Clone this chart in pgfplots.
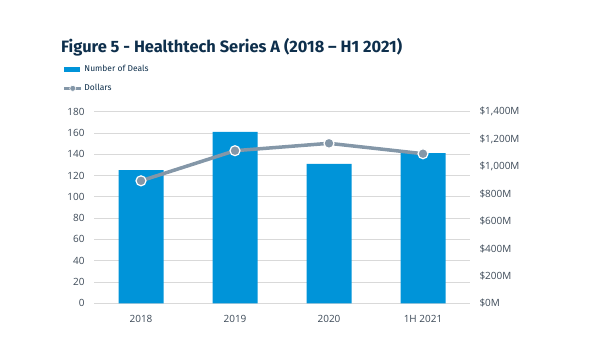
\documentclass[border=0pt]{standalone}
\usepackage{pgfplots}
\pgfplotsset{compat=1.18}
\usepackage{fontspec}
\setmainfont{Open Sans}
\newfontfamily\titlefont{Fira Sans}
\definecolor{barblue}{HTML}{0094D9}
\definecolor{linegray}{HTML}{8497A8}
\definecolor{titlec}{HTML}{0E2F4C}
\definecolor{tickc}{HTML}{3D4A58}
\definecolor{gridc}{HTML}{D9D9D9}
\begin{document}
\begin{tikzpicture}
\path[use as bounding box, fill=white] (0bp,0bp) rectangle (600bp,360bp);
\node[anchor=west, font=\titlefont\bfseries\fontsize{16.5}{20}\selectfont, text=titlec, inner sep=0] at (61bp,313bp) {Figure 5 - Healthtech Series A (2018 – H1 2021)};
\begin{axis}[
  at={(94bp,56.7bp)}, anchor=south west,
  width=376bp, height=191.6bp, scale only axis,
  xmin=-0.5, xmax=3.5, ymin=0, ymax=180,
  xtick={0,1,2,3}, xticklabels={2018,2019,2020,1H 2021},
  ytick={0,20,...,180},
  ymajorgrids, grid style={gridc, line width=0.8bp},
  axis line style={draw=none}, tick style={draw=none},
  ticklabel style={font=\fontsize{10}{12}\selectfont, text=tickc},
  /pgf/number format/assume math mode=true,
  xticklabel style={yshift=-8bp},
  yticklabel style={xshift=-6bp},
  legend style={at={(-0.083,1.252)}, anchor=north west, draw=none, fill=none,
    font=\titlefont\fontsize{8.5}{9}\selectfont, text=titlec, row sep=7bp, inner sep=0pt},
  legend cell align=left,
]
\addplot[ybar, bar width=45bp, fill=barblue, draw=none,
  legend image code/.code={\fill[barblue] (0bp,-2.5bp) rectangle (16bp,2.5bp);}]
  coordinates {(0,125) (1,161) (2,131) (3,141)};
\addlegendentry{Number of Deals}
\addlegendimage{legend image code/.code={
  \draw[linegray, line width=2.5bp] (0bp,0bp) -- (17bp,0bp);
  \fill[linegray, draw=white, line width=0.6bp] (8.5bp,0bp) circle (3bp);}}
\addlegendentry{Dollars}
\end{axis}
\begin{axis}[
  at={(94bp,56.7bp)}, anchor=south west,
  width=376bp, height=191.6bp, scale only axis,
  xmin=-0.5, xmax=3.5, ymin=0, ymax=1400,
  hide x axis, axis y line*=right,
  axis line style={draw=none}, tick style={draw=none},
  ytick={0,200,...,1400},
  yticklabels={\$0M,\$200M,\$400M,\$600M,\$800M,\$1{,}000M,\$1{,}200M,\$1{,}400M},
  ticklabel style={font=\fontsize{10}{12}\selectfont, text=tickc},
  yticklabel style={xshift=6bp},
]
\addplot[linegray, line width=3.5bp, mark=*, mark size=5bp,
  mark options={fill=linegray, draw=white, line width=1.2bp}]
  coordinates {(0,895) (1,1115) (2,1169) (3,1093)};
\end{axis}
\end{tikzpicture}
\end{document}
